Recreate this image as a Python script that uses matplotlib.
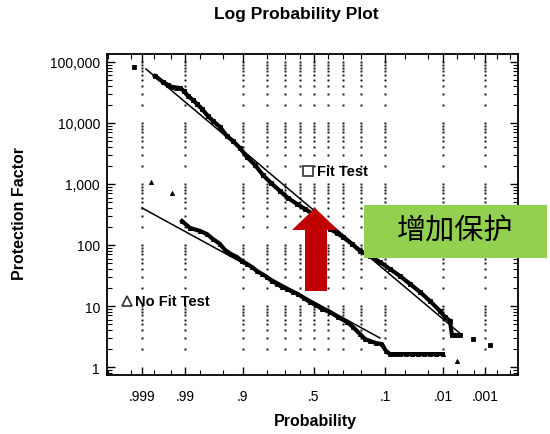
import numpy as np
import matplotlib
matplotlib.use("Agg")
import matplotlib.pyplot as plt
from matplotlib.patches import Polygon, Rectangle
from statistics import NormalDist

# ---------------- data ----------------
fit_p = [0.99941, 0.99791, 0.99675, 0.99574, 0.99475, 0.99354, 0.99211, 0.99041, 0.98840, 0.98537,
         0.98249, 0.97820, 0.97193, 0.96561, 0.95485, 0.94155, 0.92772, 0.90873, 0.88630, 0.85610,
         0.82095, 0.78083, 0.73008, 0.68010, 0.62020, 0.56435, 0.5072, 0.4427, 0.3866, 0.3394,
         0.3006, 0.2467, 0.2036, 0.1565, 0.1172, 0.0855, 0.0606, 0.0418, 0.0281, 0.0183,
         0.0116, 0.0091, 0.0071, 0.00646, 0.00525, 0.00426, 0.00209, 0.00076]
fit_pf = [83000, 58900, 47000, 42000, 38900, 38000, 37500, 33500, 27700, 23800,
          20500, 17000, 13000, 10800, 8600, 6100, 5070, 3890, 2770, 2050,
          1400, 1040, 767, 589, 470, 389, 322, 238, 183, 157,
          135, 104, 80, 66, 52.6, 40.4, 31, 23, 17, 12.1,
          8.3, 6.6, 5.7, 3.35, 3.35, 3.3, 2.88, 2.3]

nofit_p = [0.99834, 0.99475, 0.99130, 0.98726, 0.98001, 0.97307, 0.96561, 0.95485, 0.94564, 0.93255,
           0.91728, 0.90269, 0.88630, 0.86800, 0.84779, 0.82561, 0.80150, 0.77548, 0.74761, 0.71802,
           0.68652, 0.64729, 0.61333, 0.57142, 0.52870, 0.48564, 0.44275, 0.38667, 0.33287, 0.27593,
           0.24102, 0.20357, 0.17904, 0.15649, 0.13200, 0.11028, 0.09731, 0.08550, 0.07227, 0.06057,
           0.04867, 0.03870, 0.03047, 0.02374, 0.01831, 0.01397, 0.01006, 0.00498]
nofit_pf = [1080, 711, 247, 190, 170, 151, 125, 104, 82.8, 71,
            63.5, 54.6, 48.9, 43.6, 37.5, 33.5, 29.9, 25.7, 23.0, 20.5,
            19.0, 17.0, 15.7, 13.5, 11.6, 10.4, 8.93, 7.98, 6.6, 5.47,
            4.53, 3.48, 2.88, 2.67, 2.47, 2.38, 1.83, 1.63, 1.63, 1.63,
            1.63, 1.63, 1.63, 1.63, 1.63, 1.63, 1.63, 1.25]

fitline_p = [0.99877, 0.00383]
fitline_pf = [76800, 3.35]
nofitline_p = [0.99903, 0.1172]
nofitline_pf = [405, 2.99]

xtick_p = [0.999, 0.99, 0.9, 0.5, 0.1, 0.01, 0.001]
xtick_labels = ['.999', '.99', '.9', '.5', '.1', '.01', '.001']
xminor_p = [0.9999, 0.9995, 0.998, 0.995, 0.98, 0.95, 0.8, 0.7, 0.6, 0.4, 0.3, 0.2,
            0.05, 0.02, 0.005, 0.002, 0.0005, 0.0002]
grid_p = [0.999, 0.99, 0.9, 0.8, 0.7, 0.6, 0.5, 0.4, 0.3, 0.2, 0.1, 0.01, 0.001]
ytick_v = [1, 10, 100, 1000, 10000, 100000]
ytick_labels = ['1', '10', '100', '1,000', '10,000', '100,000']

title = 'Log Probability Plot'
xlabel = 'Probability'
ylabel = 'Protection Factor'
note = '增加保护'

# ---------------- probability scale ----------------
nd = NormalDist()
_inv = np.vectorize(nd.inv_cdf, otypes=[float])
_cdf = np.vectorize(nd.cdf, otypes=[float])

def fwd(p):
    p = np.clip(np.asarray(p, dtype=float), 1e-12, 1 - 1e-12)
    return _inv(p)

def inv(z):
    return _cdf(np.asarray(z, dtype=float))

plt.rcParams['font.family'] = ['Liberation Sans', 'DejaVu Sans']

W, H = 550, 435
fig = plt.figure(figsize=(W / 100, H / 100), dpi=100)
fig.patch.set_facecolor('white')
L, R, T, B = 107, 518, 55, 376
ax = fig.add_axes([L / W, 1 - B / H, (R - L) / W, (B - T) / H])
ax.set_xscale('function', functions=(fwd, inv))
ax.set_yscale('log')
ax.set_xlim(0.999904, 0.000118)
ax.set_ylim(0.74, 1.35e5)

# dotted grid columns
grid_y = [k * 10 ** n for n in range(0, 5) for k in range(2, 10)] + \
         [10 ** n for n in range(1, 6)]
for gp in grid_p:
    ax.plot([gp] * len(grid_y), grid_y, ls='none', marker='s', ms=1.8,
            mfc='#1a1a1a', mec='none', zorder=1)

# fit lines
ax.plot(fitline_p, fitline_pf, color='black', lw=1.1, zorder=3)
ax.plot(nofitline_p, nofitline_pf, color='black', lw=1.1, zorder=3)

# Fit Test data
ax.plot(fit_p[1:46], fit_pf[1:46], color='black', lw=3.0, zorder=4,
        solid_joinstyle='round')
ax.plot(fit_p, fit_pf, ls='none', marker='s', ms=3.0, mfc='black', mec='black',
        mew=0.6, zorder=5)
# No Fit Test data
ax.plot(nofit_p[2:47], nofit_pf[2:47], color='black', lw=3.0, zorder=4,
        solid_joinstyle='round')
ax.plot(nofit_p, nofit_pf, ls='none', marker='^', ms=3.0, mfc='black', mec='black',
        mew=0.6, zorder=5)

# ticks
ax.set_xticks(xtick_p)
ax.set_xticklabels(xtick_labels)
ax.set_xticks(xminor_p, minor=True)
ax.set_xticklabels([], minor=True)
ax.set_yticks(ytick_v)
ax.set_yticklabels(ytick_labels)
ax.tick_params(which='both', direction='in', top=True, right=True, color='black')
ax.tick_params(which='major', length=6, width=1.0, labelsize=10)
ax.tick_params(which='minor', length=3.5, width=0.8)
ax.tick_params(axis='x', which='major', pad=10)
ax.tick_params(axis='y', which='major', pad=5)
for s in ax.spines.values():
    s.set_linewidth(1.3)
    s.set_color('black')

# inline legend labels
ax.plot([0.489], [0.636], transform=ax.transAxes, marker='s', ms=7.5, mfc='white',
        mec='#333333', mew=1.2, ls='none', clip_on=False, zorder=6)
ax.text(0.512, 0.636, 'Fit Test', transform=ax.transAxes, fontsize=10.5,
        fontweight='bold', ha='left', va='center', zorder=6)
ax.plot([0.049], [0.231], transform=ax.transAxes, marker='^', ms=7.5, mfc='white',
        mec='#333333', mew=1.2, ls='none', clip_on=False, zorder=6)
ax.text(0.068, 0.231, 'No Fit Test', transform=ax.transAxes, fontsize=10.5,
        fontweight='bold', ha='left', va='center', zorder=6)

# titles and labels
fig.text(296 / W, 1 - 14 / H, title, ha='center', va='center', fontsize=12.5,
         fontweight='bold')
fig.text(315 / W, 1 - 422 / H, xlabel, ha='center', va='center', fontsize=11.5,
         fontweight='bold')
fig.text(20 / W, 1 - 213 / H, ylabel, ha='center', va='center', fontsize=11.5,
         fontweight='bold', rotation=90)

# red arrow
def fp(x, y):
    return (x / W, 1 - y / H)

arrow_pts = [fp(315, 209), fp(338, 231), fp(327, 231), fp(327, 292),
             fp(305, 292), fp(305, 231), fp(292, 231)]
fig.add_artist(Polygon(arrow_pts, closed=True, transform=fig.transFigure,
                       facecolor='#C00000', edgecolor='none', zorder=10))
# green box
fig.add_artist(Rectangle(fp(364, 259), (547 - 364) / W, (259 - 206) / H,
                         transform=fig.transFigure, facecolor='#92D050',
                         edgecolor='none', zorder=10))
fig.text(455 / W, 1 - 232 / H, note, ha='center', va='center', fontsize=21,
         family=['Noto Sans CJK SC', 'DejaVu Sans'], color='black', zorder=11)

fig.savefig('out.png', dpi=100)
